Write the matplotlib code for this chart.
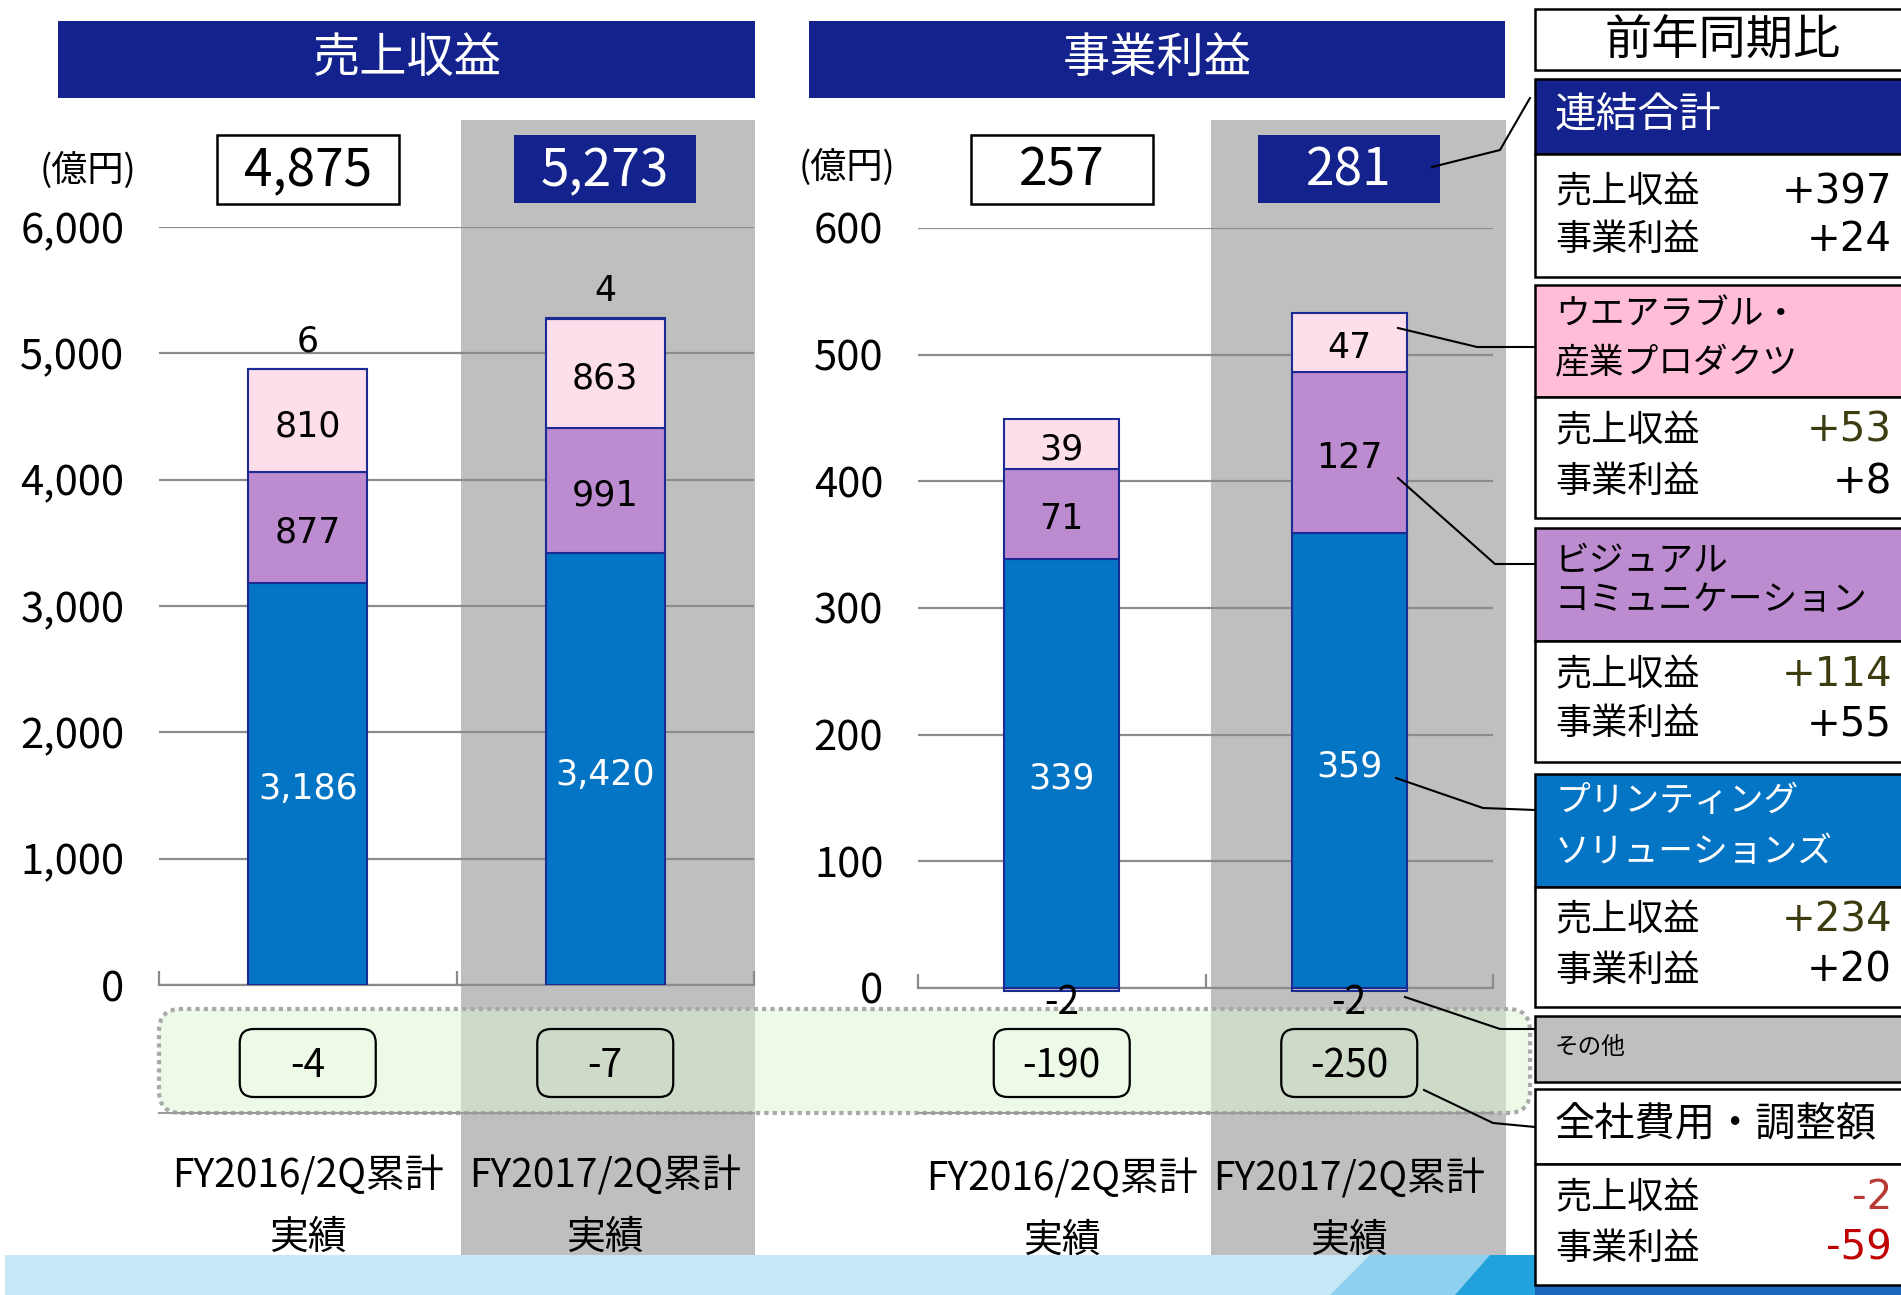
import numpy as np
import matplotlib
matplotlib.use("Agg")
import matplotlib.pyplot as plt
import matplotlib.transforms as mtransforms
from matplotlib.patches import Rectangle, FancyBboxPatch, Polygon
from matplotlib.lines import Line2D

plt.rcParams['font.family'] = ['Noto Sans CJK JP', 'DejaVu Sans']

# ---- data (億円) ----
periods = ["FY2016/2Q累計", "FY2017/2Q累計"]
period_sub = "実績"

rev_printing = [3186, 3420]
rev_visual = [877, 991]
rev_wearable = [810, 863]
rev_other = [6, 4]
rev_corp = [-4, -7]
rev_total = [4875, 5273]

op_printing = [339, 359]
op_visual = [71, 127]
op_wearable = [39, 47]
op_other = [-2, -2]
op_corp = [-190, -250]
op_total = [257, 281]

# 前年同期比
seg_names = ["連結合計", "ウエアラブル・\n産業プロダクツ", "ビジュアル\nコミュニケーション",
             "プリンティング\nソリューションズ", "その他", "全社費用・調整額"]
yoy_rev = ["+397", "+53", "+114", "+234", None, "-2"]
yoy_op = ["+24", "+8", "+55", "+20", None, "-59"]

# ---- styles ----
NAVY = '#13228c'
BLUE = '#0474c4'
PURPLE = '#bc8bd0'
PINK = '#fddfeb'
PINK_HEAD = '#ffbdd7'
GRAY = '#bfbfbf'
GRID = '#8c8c8c'
EDGE = '#1c2a94'
OLIVE = '#3d3c10'
NUMFONT = ['DejaVu Sans']

W, H = 1901, 1295
fig = plt.figure(figsize=(W / 100, H / 100), dpi=100)
PX = mtransforms.IdentityTransform()


def rect(x0, y0, x1, y1, **kw):
    p = Rectangle((x0, H - y1), x1 - x0, y1 - y0, transform=PX, **kw)
    fig.add_artist(p)
    return p


def text(x, y, s, **kw):
    return fig.text(x, H - y, s, transform=PX, **kw)


def path(pts, **kw):
    xs, ys = zip(*pts)
    fig.add_artist(Line2D(xs, [H - y for y in ys], transform=PX, **kw))


# background bands
rect(461, 120, 755, 1255, fc=GRAY, ec='none', zorder=-3)
rect(1211, 120, 1506, 1255, fc=GRAY, ec='none', zorder=-3)

# bottom decoration strip
rect(5, 1255, 1901, 1295, fc='#c6e9f8', ec='none', zorder=-3)
fig.add_artist(Polygon([(1330, H - 1295), (1370, H - 1255), (1540, H - 1255), (1540, H - 1295)],
                       closed=True, transform=PX, fc='#8fd0f1', ec='none', zorder=-3))
fig.add_artist(Polygon([(1455, H - 1295), (1490, H - 1255), (1540, H - 1255), (1540, H - 1295)],
                       closed=True, transform=PX, fc='#22a2dc', ec='none', zorder=-3))
rect(1535, 1280, 1901, 1295, fc='#1b66bc', ec='none', zorder=-3)

# green band for 全社費用・調整額
fig.add_artist(FancyBboxPatch((159, H - 1113), 1371, 104,
                              boxstyle="round,pad=0,rounding_size=22", transform=PX,
                              fc=(0.86, 0.97, 0.82, 0.5), ec='#a9a9a9', lw=3,
                              linestyle=(0, (1, 1)), zorder=-2))
path([(159, 1113), (754, 1113)], color='#9a9a9a', lw=1.5, zorder=-2)
path([(918, 1113), (1493, 1113)], color='#9a9a9a', lw=1.5, zorder=-2)

# headers
rect(58, 21, 755, 98, fc=NAVY, ec='none')
text(407, 59, "売上収益", color='white', fontsize=34, ha='center', va='center')
rect(809, 21, 1505, 98, fc=NAVY, ec='none')
text(1157, 59, "事業利益", color='white', fontsize=34, ha='center', va='center')
text(88, 170, "(億円)", fontsize=26, ha='center', va='center')
text(847, 167, "(億円)", fontsize=26, ha='center', va='center')


def make_axes(x0, x1, y_top, y_zero, ymax, step):
    ax = fig.add_axes([x0 / W, 1 - y_zero / H, (x1 - x0) / W, (y_zero - y_top) / H])
    ax.set_xlim(-0.5, 1.5)
    ax.set_ylim(0, ymax)
    ax.patch.set_visible(False)
    for s in ['top', 'right', 'left']:
        ax.spines[s].set_visible(False)
    ax.spines['bottom'].set_color(GRID)
    ax.spines['bottom'].set_linewidth(1.6)
    ticks = np.arange(0, ymax + 1, step)
    ax.set_yticks(ticks)
    ax.set_yticklabels([f"{t:,}" for t in ticks])
    ax.tick_params(axis='y', length=0, pad=25, labelsize=30)
    ax.set_xticks([-0.5, 0.5, 1.5])
    ax.set_xticklabels([])
    ax.tick_params(axis='x', direction='in', length=10, width=1.6, color=GRID)
    ax.yaxis.grid(True, color=GRID, lw=1.6)
    ax.set_axisbelow(True)
    return ax


ax1 = make_axes(159, 754, 227, 985, 6000, 1000)
ax2 = make_axes(918, 1493, 228, 988, 600, 100)


def lab(ax, x, y, s, dy=-4, **kw):
    ax.annotate(s, (x, y), xytext=(0, dy), textcoords='offset points', ha='center',
                annotation_clip=False, zorder=4, **kw)


def stack(ax, printing, visual, wearable, other):
    x = np.arange(len(periods))
    p, v, w, o = map(np.array, (printing, visual, wearable, other))
    kw = dict(width=0.4, edgecolor=EDGE, linewidth=1.5, zorder=3)
    ax.bar(x, p, color=BLUE, **kw)
    ax.bar(x, v, bottom=p, color=PURPLE, **kw)
    ax.bar(x, w, bottom=p + v, color=PINK, **kw)
    ob = np.where(o > 0, p + v + w, 0)
    ax.bar(x, o, bottom=ob, color=GRAY, clip_on=False, **kw)
    for i in x:
        lab(ax, i, p[i] / 2, f"{p[i]:,}", color='white', fontsize=25, family=NUMFONT,
            va='center')
        lab(ax, i, p[i] + v[i] / 2, f"{v[i]:,}", fontsize=25, family=NUMFONT, va='center')
        lab(ax, i, p[i] + v[i] + w[i] / 2, f"{w[i]:,}", fontsize=25, family=NUMFONT,
            va='center')
        if o[i] > 0:
            lab(ax, i, ob[i] + o[i], f"{o[i]}", dy=7, fontsize=25, family=NUMFONT,
                va='bottom')
        else:
            lab(ax, i, o[i], f"{o[i]}", dy=-9, fontsize=28, va='center')


stack(ax1, rev_printing, rev_visual, rev_wearable, rev_other)
stack(ax2, op_printing, op_visual, op_wearable, op_other)


def total_boxes(ax, vals):
    for i, v in enumerate(vals):
        cx = ax.transData.transform((i, 0))[0]
        if i == 0:
            rect(cx - 91, 135, cx + 91, 204, fc='white', ec='black', lw=1.8)
            col = 'black'
        else:
            rect(cx - 91, 135, cx + 91, 203, fc=NAVY, ec='none')
            col = 'white'
        text(cx, 171, f"{v:,}", color=col, fontsize=37, ha='center', va='center')


def corp_boxes(ax, vals):
    for i, v in enumerate(vals):
        cx = ax.transData.transform((i, 0))[0]
        fig.add_artist(FancyBboxPatch((cx - 68, H - 1097), 136, 68,
                                      boxstyle="round,pad=0,rounding_size=14", transform=PX,
                                      fc='none', ec='black', lw=1.6))
        text(cx, 1066, f"{v:,}", fontsize=28, ha='center', va='center')


def period_labels(ax, y1, y2):
    tr = mtransforms.blended_transform_factory(ax.transData, PX)
    for i, label in enumerate(periods):
        ax.text(i, H - y1, label, transform=tr, fontsize=28, ha='center', va='center')
        ax.text(i, H - y2, period_sub, transform=tr, fontsize=28, ha='center', va='center')


total_boxes(ax1, rev_total)
total_boxes(ax2, op_total)
corp_boxes(ax1, rev_corp)
corp_boxes(ax2, op_corp)
period_labels(ax1, 1176, 1238)
period_labels(ax2, 1179, 1241)

# ---- 前年同期比 panel ----
LX0, LX1 = 1535, 1905
TX, NX = 1555, 1892
rect(LX0, 9, LX1, 70, fc='white', ec='black', lw=1.8)
text(1723, 41, "前年同期比", fontsize=34, ha='center', va='center')

# (head top, head bottom, values bottom, head colour, head text colour, line ys, head size,
#  rev y, op y, rev colour, op colour)
layout = [
    (79, 154, 277, NAVY, 'white', [115], 30, 192, 240, 'black', 'black'),
    (285, 397, 518, PINK_HEAD, 'black', [315, 364], 25, 431, 482, OLIVE, 'black'),
    (528, 641, 762, PURPLE, 'black', [561, 601], 25, 675, 724, OLIVE, 'black'),
    (774, 887, 1007, BLUE, 'white', [802, 853], 25, 920, 971, OLIVE, 'black'),
    (1016, 1082, None, GRAY, 'black', [1047], 17, None, None, None, None),
    (1089, 1164, 1285, 'white', 'black', [1124], 29, 1198, 1249, '#b83a35', '#c00000'),
]

for name, r, o, (h0, h1, v1, hfc, hcol, lys, hfs, ry, oy, rcol, ocol) in zip(
        seg_names, yoy_rev, yoy_op, layout):
    rect(LX0, h0, LX1, h1, fc=hfc, ec='black', lw=1.8)
    for line, ly in zip(name.split("\n"), lys):
        text(TX, ly, line, color=hcol, fontsize=hfs, ha='left', va='center')
    if v1 is None:
        continue
    rect(LX0, h1, LX1, v1, fc='white', ec='black', lw=1.8)
    text(TX, ry, "売上収益", fontsize=26, ha='left', va='center')
    text(TX, oy, "事業利益", fontsize=26, ha='left', va='center')
    text(NX, ry, r, color=rcol, fontsize=29, family=NUMFONT, ha='right', va='center')
    text(NX, oy, o, color=ocol, fontsize=29, family=NUMFONT, ha='right', va='center')

# leader lines
for pts in [
    [(1432, 167), (1500, 150), (1530, 98)],
    [(1398, 328), (1477, 347), (1535, 347)],
    [(1398, 478), (1495, 564), (1535, 564)],
    [(1396, 778), (1483, 808), (1535, 810)],
    [(1405, 997), (1500, 1029), (1535, 1029)],
    [(1424, 1090), (1493, 1123), (1535, 1127)],
]:
    path(pts, color='black', lw=1.5, zorder=5)

fig.savefig("out.png", dpi=100)
